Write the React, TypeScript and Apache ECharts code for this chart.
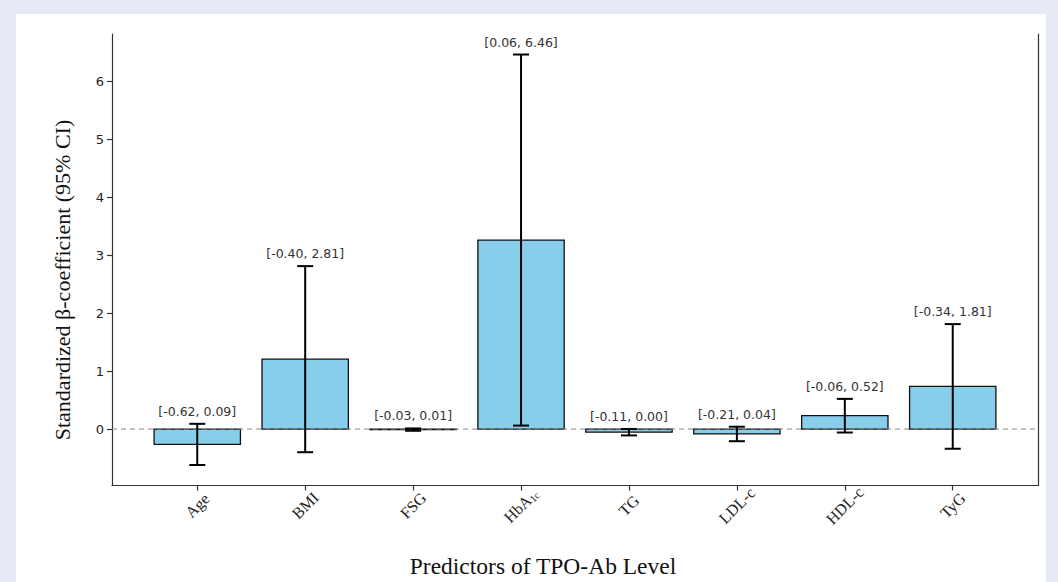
import React, { useEffect, useRef } from "react";
import * as echarts from "echarts";

const categories = ["Age", "BMI", "FSG", "HbA1c", "TG", "LDL-c", "HDL-c", "TyG"];
const betas = [-0.265, 1.205, -0.01, 3.26, -0.055, -0.085, 0.23, 0.735];
const ciLow = [-0.62, -0.4, -0.03, 0.06, -0.11, -0.21, -0.06, -0.34];
const ciHigh = [0.09, 2.81, 0.01, 6.46, 0.0, 0.04, 0.52, 1.81];
const yTicks = [0, 1, 2, 3, 4, 5, 6];
const xTicks = [0, 1, 2, 3, 4, 5, 6, 7];
const yName = "Standardized β-coefficient (95% CI)";
const xName = "Predictors of TPO-Ab Level";

const X_MIN = -0.79;
const X_MAX = 7.79;
const Y_MIN = -0.974;
const Y_MAX = 6.814;

export default function App() {
  const ref = useRef<HTMLDivElement>(null);
  useEffect(() => {
    if (!ref.current) return;
    const chart = echarts.init(ref.current, null, { renderer: "svg" });
    const barData = categories.map((_, i) => [i, betas[i]]);
    const errData = categories.map((_, i) => [i, ciLow[i], ciHigh[i]]);
    chart.setOption({
      animation: false,
      backgroundColor: "#ffffff",
      grid: { left: 96, right: 8, top: 20, bottom: 96.5, containLabel: false },
      xAxis: {
        type: "value",
        min: X_MIN,
        max: X_MAX,
        splitLine: { show: false },
        axisLine: { show: true, onZero: false, lineStyle: { color: "#333", width: 1.2 } },
        axisTick: { show: true, length: 5, customValues: xTicks, lineStyle: { color: "#333", width: 1.2 } },
        axisLabel: {
          customValues: xTicks,
          rotate: 45,
          margin: 20,
          align: "center",
          verticalAlign: "middle",
          color: "#222",
          fontFamily: "Liberation Serif",
          fontSize: 16,
          formatter: (v: number) => {
            const c = categories[Math.round(v)];
            if (c === "HbA1c") return "{n|HbA}{s|1c}";
            return "{n|" + c + "}";
          },
          rich: {
            n: { fontFamily: "Liberation Serif", fontSize: 16, color: "#222" },
            s: { fontFamily: "Liberation Serif", fontSize: 10, color: "#222", verticalAlign: "bottom", padding: [7, 0, 0, 0] },
          },
        },
      },
      yAxis: [
        {
          type: "value",
          min: Y_MIN,
          max: Y_MAX,
          splitLine: { show: false },
          axisLine: { show: true, onZero: false, lineStyle: { color: "#333", width: 1.2 } },
          axisTick: { show: true, length: 5, customValues: yTicks, lineStyle: { color: "#333", width: 1.2 } },
          axisLabel: {
            customValues: yTicks,
            margin: 8,
            color: "#222",
            fontFamily: "DejaVu Sans",
            fontSize: 13,
          },
        },
        {
          type: "value",
          position: "right",
          min: Y_MIN,
          max: Y_MAX,
          splitLine: { show: false },
          axisLine: { show: true, onZero: false, lineStyle: { color: "#333", width: 1.2 } },
          axisTick: { show: false },
          axisLabel: { show: false },
        },
      ],
      graphic: [
        {
          type: "text",
          x: 46,
          y: 266,
          rotation: Math.PI / 2,
          style: {
            text: yName,
            fontFamily: "Liberation Serif",
            fontSize: 22,
            fill: "#111",
            align: "center",
            verticalAlign: "middle",
          },
        },
        {
          type: "text",
          x: 527,
          y: 552,
          style: {
            text: xName,
            fontFamily: "Liberation Serif",
            fontSize: 23.5,
            fill: "#111",
            align: "center",
            verticalAlign: "middle",
          },
        },
      ],
      series: [
        {
          type: "custom",
          name: "beta",
          data: barData,
          encode: { x: 0, y: 1 },
          z: 2,
          renderItem: (params: any, api: any) => {
            const x = api.value(0);
            const v = api.value(1);
            const p0 = api.coord([x - 0.4, v]);
            const p1 = api.coord([x + 0.4, 0]);
            return {
              type: "rect",
              shape: {
                x: p0[0],
                y: Math.min(p0[1], p1[1]),
                width: p1[0] - p0[0],
                height: Math.abs(p1[1] - p0[1]),
              },
              style: { fill: "#87CEEB", stroke: "#111", lineWidth: 1.3 },
            };
          },
        },
        {
          type: "line",
          name: "zero",
          data: [[X_MIN, 0], [X_MAX, 0]],
          symbol: "none",
          z: 3,
          lineStyle: { color: "#888", width: 1, type: [5, 4] },
          silent: true,
        },
        {
          type: "custom",
          name: "ci",
          data: errData,
          encode: { x: 0, y: [1, 2] },
          z: 4,
          renderItem: (params: any, api: any) => {
            const i = params.dataIndex;
            const x = api.value(0);
            const lo = api.coord([x, api.value(1)]);
            const hi = api.coord([x, api.value(2)]);
            const cap = 8;
            const ls = { stroke: "#000", lineWidth: 2 };
            return {
              type: "group",
              children: [
                { type: "line", shape: { x1: lo[0], y1: lo[1], x2: hi[0], y2: hi[1] }, style: ls },
                { type: "line", shape: { x1: lo[0] - cap, y1: lo[1], x2: lo[0] + cap, y2: lo[1] }, style: ls },
                { type: "line", shape: { x1: hi[0] - cap, y1: hi[1], x2: hi[0] + cap, y2: hi[1] }, style: ls },
                {
                  type: "text",
                  x: hi[0],
                  y: hi[1] - 6,
                  style: {
                    text: "[" + ciLow[i].toFixed(2) + ", " + ciHigh[i].toFixed(2) + "]",
                    fontFamily: "DejaVu Sans",
                    fontSize: 12.5,
                    fill: "#333",
                    align: "center",
                    verticalAlign: "bottom",
                  },
                },
              ],
            };
          },
        },
      ],
    });
    return () => chart.dispose();
  }, []);

  return (
    <div style={{ position: "fixed", left: 0, top: 0, width: 1058, height: 582, background: "#e7eaf5" }}>
      <div
        ref={ref}
        style={{ position: "absolute", left: 16, top: 14, width: 1030, height: 568, background: "#ffffff" }}
      />
    </div>
  );
}
